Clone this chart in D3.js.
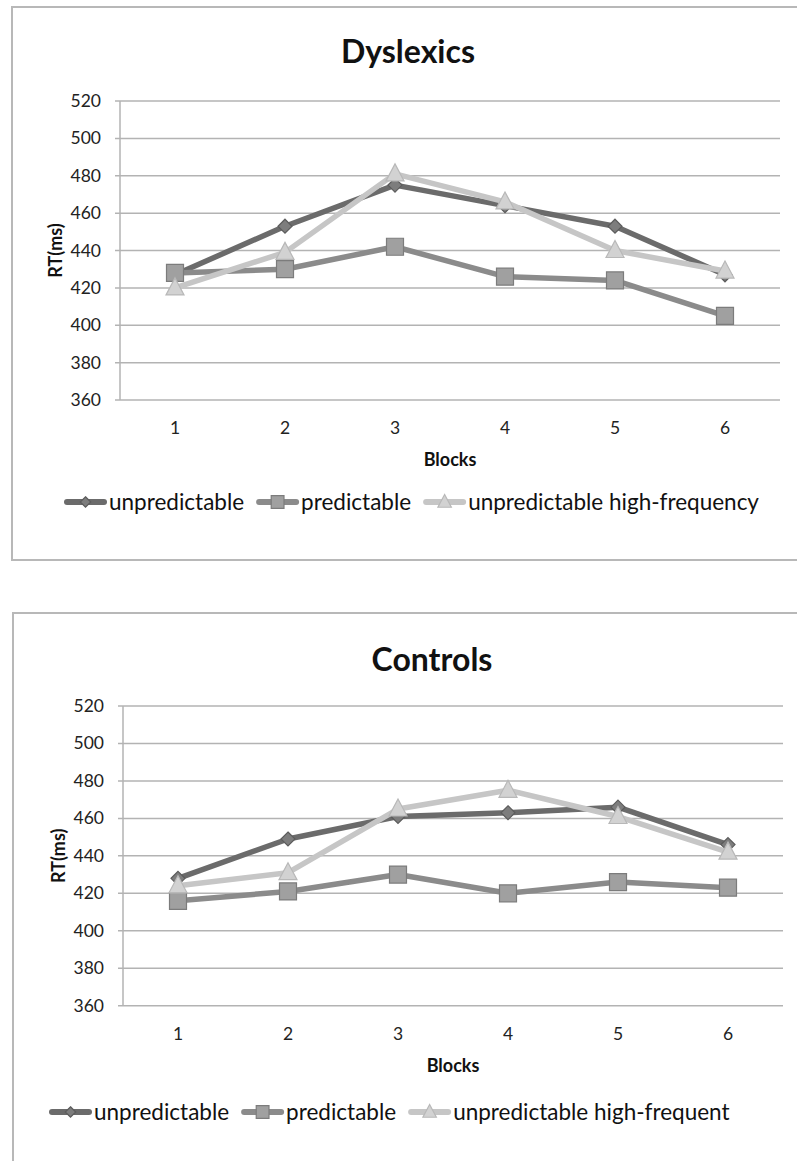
<!DOCTYPE html>
<html>
<head>
<meta charset="utf-8">
<script src="https://cdn.jsdelivr.net/npm/d3@7"></script>
<style>
  body { margin: 0; background: #fff; }
  svg { display: block; font-family: Lato, "Open Sans", sans-serif; }
</style>
</head>
<body>
<div id="chart"></div>
<script>
// ---- data ----
const blocks = [1, 2, 3, 4, 5, 6]
const yDomain = [360, 520]
const seriesNames = ["unpredictable", "predictable"]
const dysHighFreqName = "unpredictable high-frequency"
const ctlHighFreqName = "unpredictable high-frequent"

const dysUnpredictable = [427, 453, 475, 464, 453, 427]
const dysPredictable = [428, 430, 442, 426, 424, 405]
const dysHighFreq = [420, 439, 481, 466, 440, 429]

const ctlUnpredictable = [428, 449, 461, 463, 466, 446]
const ctlPredictable = [416, 421, 430, 420, 426, 423]
const ctlHighFreq = [424, 431, 465, 475, 461, 442]

const STYLES = [
  {line: "#6b6b6b", fill: "#7d7d7d", stroke: "#5c5c5c", marker: "diamond"},
  {line: "#8b8b8b", fill: "#a0a0a0", stroke: "#7c7c7c", marker: "square"},
  {line: "#c6c6c6", fill: "#d2d2d2", stroke: "#b8b8b8", marker: "triangle"}
]

const W = 797, H = 1161

const svg = d3.select("#chart").append("svg")
  .attr("width", W)
  .attr("height", H)

/*********************************************
// helpers
*********************************************/
function markerPath(type, s) {
  if (type === "diamond") return `M0,${-7*s}L${7*s},0L0,${7*s}L${-7*s},0Z`
  if (type === "square") return `M${-8.5*s},${-8.5*s}H${8.5*s}V${8.5*s}H${-8.5*s}Z`
  return `M0,${-10*s}L${9*s},${7*s}H${-9*s}Z`
}

function drawMarker(g, type, st, s) {
  g.append("path")
    .attr("d", markerPath(type, s || 1))
    .attr("fill", st.fill)
    .attr("stroke", st.stroke)
    .attr("stroke-width", 1.2)
}

function drawChart(opts) {
  const frame = svg.append("g")

  // outer box
  frame.append("path")
    .attr("d", opts.frame)
    .attr("fill", "none")
    .attr("stroke", "#b8b8b8")
    .attr("stroke-width", 2)

  const x = d3.scaleBand().domain(blocks).range([opts.left, opts.right])
  const y = d3.scaleLinear().domain(yDomain).range([opts.bottom, opts.top])
  const cx = (d) => x(d) + x.bandwidth() / 2

  // gridlines
  frame.append("g").selectAll("line.grid")
    .data(y.ticks(8)).enter()
    .append("line")
    .attr("x1", opts.left - 5)
    .attr("x2", opts.right)
    .attr("y1", y)
    .attr("y2", y)
    .attr("stroke", "#b3b3b3")
    .attr("stroke-width", 1.5)

  frame.append("line")
    .attr("x1", opts.left).attr("x2", opts.left)
    .attr("y1", opts.top).attr("y2", opts.bottom)
    .attr("stroke", "#b3b3b3")
    .attr("stroke-width", 1.5)

  // y tick labels
  frame.append("g").selectAll("text")
    .data(y.ticks(8)).enter()
    .append("text")
    .attr("x", opts.left - 19)
    .attr("y", (d) => y(d) + 6)
    .attr("text-anchor", "end")
    .attr("font-size", 17.5)
    .attr("fill", "#222")
    .text((d) => d)

  // x tick labels
  frame.append("g").selectAll("text")
    .data(blocks).enter()
    .append("text")
    .attr("x", cx)
    .attr("y", opts.bottom + 34)
    .attr("text-anchor", "middle")
    .attr("font-size", 17.5)
    .attr("fill", "#222")
    .text((d) => d)

  const mid = (opts.left + opts.right) / 2

  frame.append("text")
    .attr("x", opts.title.x)
    .attr("y", opts.title.y)
    .attr("text-anchor", "middle")
    .attr("font-size", 32)
    .attr("font-weight", "bold")
    .attr("fill", "#111")
    .text(opts.title.text)

  frame.append("text")
    .attr("x", mid)
    .attr("y", opts.bottom + 66)
    .attr("text-anchor", "middle")
    .attr("font-size", 18)
    .attr("font-weight", "bold")
    .attr("fill", "#111")
    .text("Blocks")

  frame.append("text")
    .attr("transform", `translate(${opts.left - 58},${(opts.top + opts.bottom) / 2}) rotate(-90)`)
    .attr("text-anchor", "middle")
    .attr("font-size", 18)
    .attr("font-weight", "bold")
    .attr("fill", "#111")
    .text("RT(ms)")

  // series
  const line = d3.line().x((d, i) => cx(blocks[i])).y((d) => y(d))
  opts.series.forEach((s, k) => {
    const st = STYLES[k]
    frame.append("path")
      .datum(s.values)
      .attr("d", line)
      .attr("fill", "none")
      .attr("stroke", st.line)
      .attr("stroke-width", 5.5)
      .attr("stroke-linejoin", "round")
    s.values.forEach((v, i) => {
      const m = frame.append("g")
        .attr("transform", `translate(${cx(blocks[i])},${y(v)})`)
      drawMarker(m, st.marker, st)
    })
  })

  // legend
  let lx = opts.legend.x
  const ly = opts.legend.y
  opts.series.forEach((s, k) => {
    const st = STYLES[k]
    const item = frame.append("g")
    item.append("line")
      .attr("x1", lx + 3).attr("x2", lx + 40)
      .attr("y1", ly).attr("y2", ly)
      .attr("stroke", st.line)
      .attr("stroke-width", 6)
      .attr("stroke-linecap", "round")
    const m = item.append("g").attr("transform", `translate(${lx + 21.5},${ly})`)
    drawMarker(m, st.marker, st, 0.75)
    const t = item.append("text")
      .attr("x", lx + 45)
      .attr("y", ly + 8)
      .attr("font-size", 22.5)
      .attr("fill", "#111")
      .text(s.name)
    lx += 45 + t.node().getComputedTextLength() + 12
  })
}

/*********************************************
// draw both panels
*********************************************/
drawChart({
  frame: "M800,7H12V560H800",
  left: 120, right: 780, top: 101, bottom: 400,
  title: {text: "Dyslexics", x: 408, y: 63},
  legend: {x: 64, y: 502},
  series: [
    {name: seriesNames[0], values: dysUnpredictable},
    {name: seriesNames[1], values: dysPredictable},
    {name: dysHighFreqName, values: dysHighFreq}
  ]
})

drawChart({
  frame: "M800,613H13V1170",
  left: 123, right: 783, top: 706, bottom: 1005.7,
  title: {text: "Controls", x: 432, y: 671},
  legend: {x: 49, y: 1112},
  series: [
    {name: seriesNames[0], values: ctlUnpredictable},
    {name: seriesNames[1], values: ctlPredictable},
    {name: ctlHighFreqName, values: ctlHighFreq}
  ]
})
</script>
</body>
</html>
